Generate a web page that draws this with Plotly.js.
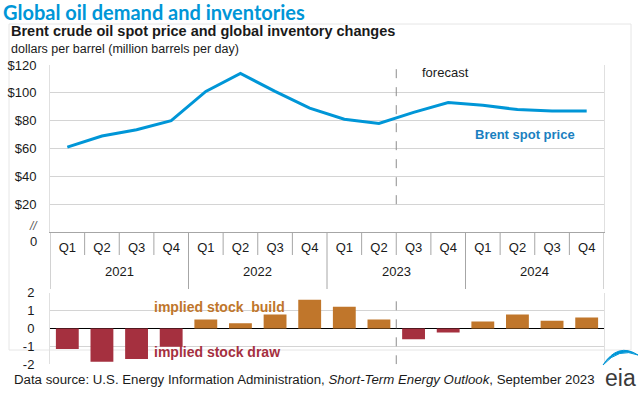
<!DOCTYPE html>
<html>
<head>
<meta charset="utf-8">
<script src="https://cdn.plot.ly/plotly-3.0.1.min.js"></script>
<style>html,body{margin:0;padding:0;background:#fff;}#chart{width:640px;height:396px;}</style>
</head>
<body>
<div id="chart"></div>
<script>
// ---- data ----
const years = ["2021", "2022", "2023", "2024"];
const quarters = ["Q1","Q2","Q3","Q4","Q1","Q2","Q3","Q4","Q1","Q2","Q3","Q4","Q1","Q2","Q3","Q4"];
const brentPrice = [61, 69, 73.5, 80, 101, 114, 101, 89, 81, 78, 86, 93, 91, 88, 87, 87];
const stockChange = [-1.15, -1.86, -1.71, -1.02, 0.50, 0.30, 0.78, 1.60, 1.21, 0.50, -0.60, -0.22, 0.39, 0.78, 0.43, 0.61];
const priceTickVals = [20, 40, 60, 80, 100, 120];
const priceTickText = ["$20", "$40", "$60", "$80", "$100", "$120"];
const stockTickVals = [-2, -1, 0, 1, 2];
const stockTickText = ["-2", "-1", "0", "1", "2"];
const forecastStartIndex = 10; // first forecast quarter (2023 Q3)

// ---- layout helpers ----
const W = 640, H = 396;
const px = v => v / W;
const py = v => 1 - v / H;
const idx = quarters.map((q, i) => i);

const FONT = "Liberation Sans, Arial, sans-serif";
const TXT = "#1a1a1a";
const BLUE = "#0096d7";
const DRAW = "#a5303f";
const BUILD = "#c0762b";

const traces = [
  {
    type: "scatter", mode: "lines",
    x: idx, y: brentPrice,
    line: {color: BLUE, width: 3},
    xaxis: "x", yaxis: "y", hoverinfo: "skip"
  },
  {
    type: "bar",
    x: idx, y: stockChange,
    marker: {color: stockChange.map(v => v < 0 ? DRAW : BUILD)},
    xaxis: "x2", yaxis: "y2", hoverinfo: "skip"
  }
];

const shapes = [];
const annotations = [];

// quarter dividers and year dividers under the top chart
const qPerYear = quarters.length / years.length;
for (let b = 0; b <= quarters.length; b++) {
  const isYear = b % qPerYear === 0;
  shapes.push({
    type: "line", xref: "x", yref: "paper",
    x0: b - 0.5, x1: b - 0.5,
    y0: py(232), y1: py(isYear ? 289 : 255),
    line: {color: "#a6a6a6", width: 1}
  });
}
years.forEach((yr, i) => {
  annotations.push({
    text: yr, xref: "x", yref: "paper",
    x: i * qPerYear + (qPerYear - 1) / 2, y: py(271.5),
    showarrow: false, xanchor: "center", yanchor: "middle",
    font: {family: FONT, size: 13, color: TXT}
  });
});

// forecast dashed lines
shapes.push({type: "line", xref: "x", yref: "y", x0: forecastStartIndex - 0.5, x1: forecastStartIndex - 0.5, y0: 20, y1: 117,
  line: {color: "#8c8c8c", width: 1, dash: "dash"}});
shapes.push({type: "line", xref: "x2", yref: "y2", x0: forecastStartIndex - 0.5, x1: forecastStartIndex - 0.5, y0: -2, y1: 2,
  line: {color: "#8c8c8c", width: 1, dash: "dash"}});

// outer frame
shapes.push({type: "rect", xref: "paper", yref: "paper", x0: px(9), x1: px(631), y0: py(350), y1: py(24),
  line: {color: "#e6e6e6", width: 1}, layer: "below"});

// eia swoosh
const sw = `M ${px(603)} ${py(365)} Q ${px(618)} ${py(342)} ${px(638)} ${py(355)} Q ${px(619)} ${py(347)} ${px(603)} ${py(365)} Z`;
shapes.push({type: "path", xref: "paper", yref: "paper", path: sw, fillcolor: BLUE, line: {color: BLUE, width: 1}});

// text annotations
annotations.push(
  {text: "<b>Brent crude oil spot price and global inventory changes</b>", xref: "paper", yref: "paper",
   x: px(9), y: py(31), xanchor: "left", yanchor: "middle", showarrow: false,
   font: {family: FONT, size: 14.5, color: TXT}},
  {text: "dollars per barrel (million barrels per day)", xref: "paper", yref: "paper",
   x: px(9), y: py(49), xanchor: "left", yanchor: "middle", showarrow: false,
   font: {family: FONT, size: 12.5, color: TXT}},
  {text: "0", xref: "paper", yref: "paper", x: px(39), y: py(241), xanchor: "right", yanchor: "middle",
   showarrow: false, font: {family: FONT, size: 13, color: TXT}},
  {text: "<i>//</i>", xref: "paper", yref: "paper", x: px(40), y: py(226), xanchor: "right", yanchor: "middle",
   showarrow: false, font: {family: FONT, size: 12, color: "#595959"}},
  {text: "forecast", xref: "x", yref: "y", x: 10.2, y: 114.5, xanchor: "left", yanchor: "middle",
   showarrow: false, font: {family: FONT, size: 13, color: TXT}},
  {text: "<b>Brent spot price</b>", xref: "x", yref: "y", x: 11.72, y: 70, xanchor: "left", yanchor: "middle",
   showarrow: false, font: {family: FONT, size: 13, color: "#1a80c0"}},
  {text: "<b>implied stock  build</b>", xref: "x2", yref: "y2", x: 2.44, y: 1.2, xanchor: "left", yanchor: "middle",
   showarrow: false, font: {family: FONT, size: 14, color: BUILD}},
  {text: "<b>implied stock draw</b>", xref: "x2", yref: "y2", x: 2.44, y: -1.3, xanchor: "left", yanchor: "middle",
   showarrow: false, font: {family: FONT, size: 14, color: DRAW}},
  {text: "Data source: U.S. Energy Information Administration, <i>Short-Term Energy Outlook</i>, September 2023",
   xref: "paper", yref: "paper", x: px(12), y: py(379), xanchor: "left", yanchor: "middle", showarrow: false,
   font: {family: FONT, size: 13.25, color: TXT}},
  {text: "eia", xref: "paper", yref: "paper", x: px(620), y: py(378), xanchor: "center", yanchor: "middle", showarrow: false,
   font: {family: FONT, size: 23, color: "#3a3a3a"}}
);

const xDomain = [px(50), px(604)];
const layout = {
  width: W, height: H,
  margin: {l: 0, r: 0, t: 0, b: 0},
  paper_bgcolor: "#fff", plot_bgcolor: "#fff",
  showlegend: false,
  bargap: 0.34,
  title: {text: "Global oil demand and inventories", x: px(3), xanchor: "left", xref: "paper",
          y: py(13), yanchor: "middle", yref: "paper",
          font: {family: "Lato, sans-serif", size: 20, weight: 700, color: BLUE}},
  xaxis: {
    domain: xDomain, range: [-0.5, quarters.length - 0.5],
    tickmode: "array", tickvals: idx, ticktext: quarters,
    ticks: "", ticklabelstandoff: 3,
    tickfont: {family: FONT, size: 13, color: TXT},
    showgrid: false, zeroline: false,
    showline: true, linecolor: "#a6a6a6", linewidth: 1,
    anchor: "y", fixedrange: true
  },
  yaxis: {
    domain: [py(232), py(65)], range: [0, 120],
    tickmode: "array", tickvals: priceTickVals, ticktext: priceTickText,
    ticks: "", ticklabelstandoff: 10,
    tickfont: {family: FONT, size: 13, color: TXT},
    showgrid: true, gridcolor: "#d4d4d4", gridwidth: 1,
    zeroline: false, showline: true, mirror: true, linecolor: "#e0e0e0",
    anchor: "x", fixedrange: true
  },
  xaxis2: {
    domain: xDomain, range: [-0.5, quarters.length - 0.5],
    showticklabels: false, ticks: "", showgrid: false, zeroline: false,
    showline: false, anchor: "y2", fixedrange: true
  },
  yaxis2: {
    domain: [py(364.3), py(292.7)], range: [-2, 2],
    tickmode: "array", tickvals: stockTickVals, ticktext: stockTickText,
    ticks: "", ticklabelstandoff: 12,
    tickfont: {family: FONT, size: 13, color: TXT},
    showgrid: true, gridcolor: "#d4d4d4", gridwidth: 1,
    zeroline: true, zerolinecolor: "#000", zerolinewidth: 1.5,
    showline: true, mirror: true, linecolor: "#e0e0e0",
    anchor: "x2", fixedrange: true
  },
  shapes: shapes,
  annotations: annotations
};

Plotly.newPlot("chart", traces, layout, {staticPlot: true, displayModeBar: false});
</script>
</body>
</html>
